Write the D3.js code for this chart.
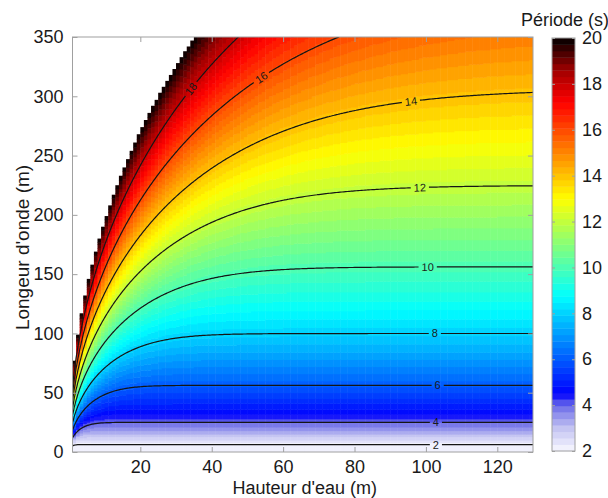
<!DOCTYPE html>
<html><head><meta charset="utf-8">
<script src="https://cdn.jsdelivr.net/npm/d3@7"></script>
<style>
body{margin:0;background:#fff;}
text{font-family:"Liberation Sans",Arial,Helvetica,sans-serif;}
</style>
</head><body>
<svg id="chart" width="608" height="498"></svg>
<script>
// ---------- data ----------
const depthRange = [1, 130];          // Hauteur d'eau (m)
const wavelengthRange = [0, 350];     // Longeur d'onde (m)
const periodRange = [2, 20];          // Période (s)
const xTicks = [20, 40, 60, 80, 100, 120];
const yTicks = [0, 50, 100, 150, 200, 250, 300, 350];
const colorTicks = [2, 4, 6, 8, 10, 12, 14, 16, 18, 20];
const contourLevels = [2, 4, 6, 8, 10, 12, 14, 16, 18];
const labelDepths = [102.8, 102.8, 103.3, 102.5, 100.5, 98.3, 95.8, 53.9, 34.2];
const colorStops = [2, 3, 4, 4.5, 8.75, 13, 17.2, 18.6, 20];
const colorValues = ["#f8f8ff", "#c4c4f2", "#6a6ae8", "#0000ff", "#00ffff", "#ffff00", "#ff0000", "#a00000", "#000000"];
const nColors = 64;
const gravity = 9.81;

// linear wave dispersion: period for depth h and wavelength L
function period(h, L) {
  if (L <= 0) return 0;
  const k = 2 * Math.PI / L;
  return 2 * Math.PI / Math.sqrt(gravity * k * Math.tanh(k * h));
}

// ---------- layout ----------
const svg = d3.select("#chart");
const M = {left: 72.5, right: 533, top: 37, bottom: 452};
const x = d3.scaleLinear().domain(depthRange).range([M.left, M.right]);
const y = d3.scaleLinear().domain(wavelengthRange).range([M.bottom, M.top]);
const cont = d3.scaleLinear().domain(colorStops).range(colorValues).interpolate(d3.interpolateRgb).clamp(true);
const quant = v => Math.max(0, Math.min(nColors - 1, Math.floor((v - periodRange[0]) / (periodRange[1] - periodRange[0]) * nColors)));
const bandColor = i => cont(periodRange[0] + (i + 0.5) * (periodRange[1] - periodRange[0]) / nColors);

svg.append("defs").append("clipPath").attr("id", "plotclip")
  .append("rect").attr("x", M.left).attr("y", M.top).attr("width", M.right - M.left).attr("height", M.bottom - M.top);

// ---------- heatmap cells (1 m columns, 1 m rows, merged runs) ----------
const runs = [];
for (let h = depthRange[0]; h < depthRange[1]; h += 1) {
  let cur = null;
  for (let L = wavelengthRange[0]; L < wavelengthRange[1]; L += 1) {
    const T = period(h + 0.5, L + 0.5);
    const ci = T > periodRange[1] ? -1 : quant(T);
    if (cur && cur.ci === ci) { cur.L1 = L + 1; }
    else { cur = {h0: h, h1: h + 1, L0: L, L1: L + 1, ci: ci}; runs.push(cur); }
  }
}
const heat = svg.append("g").attr("clip-path", "url(#plotclip)");
heat.selectAll("rect").data(runs.filter(r => r.ci >= 0)).join("rect")
  .attr("x", d => x(d.h0))
  .attr("width", d => x(d.h1) - x(d.h0) + 0.5)
  .attr("y", d => y(d.L1))
  .attr("height", d => y(d.L0) - y(d.L1) + 0.5)
  .attr("fill", d => bandColor(d.ci));

// ---------- contours (marching squares) ----------
const hs = d3.range(depthRange[0], depthRange[1] + 0.001, 0.5);
const Ls = d3.range(wavelengthRange[0], wavelengthRange[1] + 0.001, 1);
const grid = hs.map(h => Ls.map(L => period(h, L)));

function isoSegments(lev) {
  const segs = [];
  for (let i = 0; i < hs.length - 1; i++) {
    for (let j = 0; j < Ls.length - 1; j++) {
      const P = [[i, j], [i + 1, j], [i + 1, j + 1], [i, j + 1]];
      const V = P.map(p => grid[p[0]][p[1]]);
      const pts = [];
      for (let e = 0; e < 4; e++) {
        const a = e, b = (e + 1) % 4;
        if ((V[a] >= lev) !== (V[b] >= lev)) {
          const t = (lev - V[a]) / (V[b] - V[a]);
          const hh = hs[P[a][0]] + t * (hs[P[b][0]] - hs[P[a][0]]);
          const LL = Ls[P[a][1]] + t * (Ls[P[b][1]] - Ls[P[a][1]]);
          pts.push([x(hh), y(LL)]);
        }
      }
      if (pts.length === 2) segs.push(pts);
      else if (pts.length === 4) { segs.push([pts[0], pts[1]]); segs.push([pts[2], pts[3]]); }
    }
  }
  return segs;
}

function solveL(h, lev) {
  let lo = 0.01, hi = 5000;
  for (let k = 0; k < 80; k++) {
    const mid = (lo + hi) / 2;
    if (period(h, mid) < lev) lo = mid; else hi = mid;
  }
  return (lo + hi) / 2;
}

const labels = contourLevels.map((lev, i) => {
  const h = labelDepths[i];
  const L = solveL(h, lev);
  const La = solveL(h - 1, lev), Lb = solveL(h + 1, lev);
  const ang = Math.atan2(y(Lb) - y(La), x(h + 1) - x(h - 1)) * 180 / Math.PI;
  return {lev, px: x(h), py: y(L), ang};
});

const mask = svg.select("defs").append("mask").attr("id", "labmask").attr("maskUnits", "userSpaceOnUse");
mask.append("rect").attr("x", 0).attr("y", 0).attr("width", 608).attr("height", 498).attr("fill", "#fff");
mask.selectAll("rect.hole").data(labels).join("rect").attr("class", "hole")
  .attr("x", d => -(String(d.lev).length * 11 * 0.556) / 2 - 3)
  .attr("y", -6)
  .attr("width", d => String(d.lev).length * 11 * 0.556 + 6)
  .attr("height", 12)
  .attr("transform", d => `translate(${d.px},${d.py}) rotate(${d.ang})`)
  .attr("fill", "#000");

const cg = svg.append("g").attr("clip-path", "url(#plotclip)").append("g").attr("mask", "url(#labmask)");
cg.selectAll("path").data(contourLevels).join("path")
  .attr("d", lev => isoSegments(lev).map(s => `M${s[0][0].toFixed(2)},${s[0][1].toFixed(2)}L${s[1][0].toFixed(2)},${s[1][1].toFixed(2)}`).join(""))
  .attr("fill", "none").attr("stroke", "#151515").attr("stroke-width", 1.2).attr("stroke-linecap", "round");

svg.append("g").selectAll("text").data(labels).join("text")
  .attr("transform", d => `translate(${d.px},${d.py}) rotate(${d.ang})`)
  .attr("text-anchor", "middle").attr("dy", "0.36em")
  .attr("font-size", 11).attr("fill", "#1a1a1a")
  .text(d => d.lev);

// ---------- axes ----------
const axisColor = "#a0a0a0", textColor = "#1a1a1a";
svg.append("rect").attr("x", M.left).attr("y", M.top).attr("width", M.right - M.left).attr("height", M.bottom - M.top)
  .attr("fill", "none").attr("stroke", axisColor).attr("stroke-width", 1);

function styleAxis(g) {
  g.select(".domain").remove();
  g.selectAll(".tick line").attr("stroke", axisColor);
}
svg.append("g").attr("transform", `translate(0,${M.bottom})`)
  .call(d3.axisBottom(x).tickValues(xTicks).tickSize(-5).tickPadding(8))
  .call(styleAxis)
  .call(g => g.selectAll("text").attr("font-size", 18).attr("fill", textColor).attr("font-family", "Liberation Sans, Arial, sans-serif"));
svg.append("g").attr("transform", `translate(0,${M.top})`)
  .call(d3.axisTop(x).tickValues(xTicks).tickSize(-5).tickFormat(""))
  .call(styleAxis);
svg.append("g").attr("transform", `translate(${M.left},0)`)
  .call(d3.axisLeft(y).tickValues(yTicks).tickSize(-5).tickPadding(9))
  .call(styleAxis)
  .call(g => g.selectAll("text").attr("font-size", 18).attr("fill", textColor).attr("font-family", "Liberation Sans, Arial, sans-serif"));
svg.append("g").attr("transform", `translate(${M.right},0)`)
  .call(d3.axisRight(y).tickValues(yTicks).tickSize(-5).tickFormat(""))
  .call(styleAxis);

svg.append("text").attr("x", (M.left + M.right) / 2 + 2).attr("y", 494)
  .attr("text-anchor", "middle").attr("font-size", 18).attr("fill", textColor).text("Hauteur d'eau (m)");
svg.append("text").attr("transform", `translate(29,${(M.top + M.bottom) / 2 + 3}) rotate(-90)`)
  .attr("text-anchor", "middle").attr("font-size", 19).attr("fill", textColor).text("Longeur d'onde (m)");

// ---------- colorbar ----------
const CB = {x0: 552, x1: 575, top: 38, bottom: 451};
const cy = d3.scaleLinear().domain(periodRange).range([CB.bottom, CB.top]);
const bandStep = (periodRange[1] - periodRange[0]) / nColors;
svg.append("g").selectAll("rect").data(d3.range(nColors)).join("rect")
  .attr("x", CB.x0).attr("width", CB.x1 - CB.x0)
  .attr("y", i => cy(periodRange[0] + (i + 1) * bandStep))
  .attr("height", i => cy(periodRange[0] + i * bandStep) - cy(periodRange[0] + (i + 1) * bandStep) + 0.4)
  .attr("fill", i => bandColor(i));
svg.append("rect").attr("x", CB.x0).attr("y", CB.top).attr("width", CB.x1 - CB.x0).attr("height", CB.bottom - CB.top)
  .attr("fill", "none").attr("stroke", axisColor);
svg.append("g").attr("transform", `translate(${CB.x1},0)`)
  .call(d3.axisRight(cy).tickValues(colorTicks).tickSize(-3).tickPadding(7))
  .call(styleAxis)
  .call(g => g.selectAll("text").attr("font-size", 18).attr("fill", textColor).attr("font-family", "Liberation Sans, Arial, sans-serif"));
svg.append("g").attr("transform", `translate(${CB.x0},0)`)
  .call(d3.axisLeft(cy).tickValues(colorTicks).tickSize(-3).tickFormat(""))
  .call(styleAxis);
svg.append("text").attr("x", 521).attr("y", 26).attr("font-size", 18).attr("fill", textColor).text("Période (s)");
</script>
</body></html>
